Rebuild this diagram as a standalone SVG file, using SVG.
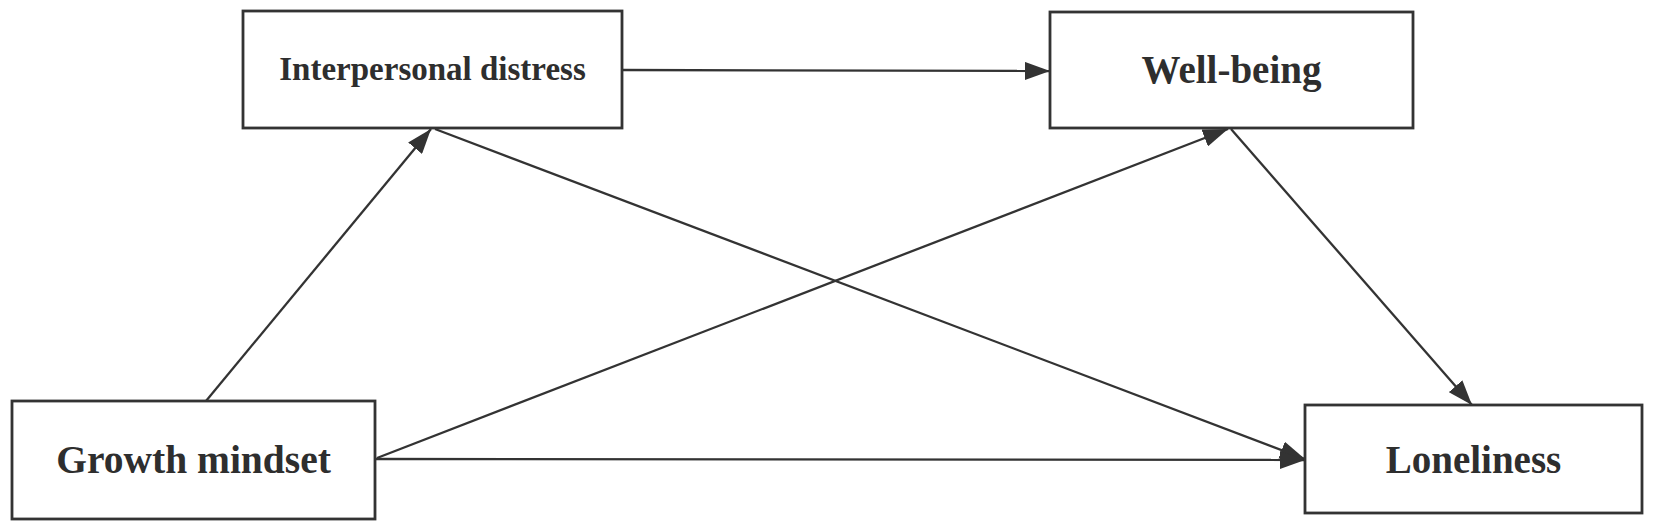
<svg xmlns="http://www.w3.org/2000/svg" width="1654" height="530" viewBox="0 0 1654 530">
<style>
.box{fill:#fff;stroke:#333;stroke-width:2.8}
.lbl{font-family:"Liberation Serif","Times New Roman",serif;font-weight:bold;fill:#2e2e2e;text-anchor:middle}
.edge{stroke:#333;stroke-width:2.3;fill:none;marker-end:url(#arr)}
</style>
<defs>
<marker id="arr" markerUnits="userSpaceOnUse" markerWidth="25" markerHeight="18" refX="25" refY="9" orient="auto">
<path d="M0,0 L25,9 L0,18 z" fill="#333"/>
</marker>
</defs>
<rect width="1654" height="530" fill="#fff"/>
<g id="connectors">
<line class="edge" x1="206" y1="401" x2="431" y2="129"/>
<line class="edge" x1="435" y1="129" x2="1305" y2="459"/>
<line class="edge" x1="377" y1="458" x2="1228" y2="129"/>
<line class="edge" x1="622" y1="70" x2="1050" y2="71"/>
<line class="edge" x1="1231" y1="129" x2="1472" y2="405"/>
<line class="edge" x1="376" y1="459" x2="1305" y2="460"/>
</g>
<g id="interpersonal">
<rect class="box" x="243" y="11" width="379" height="117"/>
<text class="lbl" x="432.5" y="80" font-size="33">Interpersonal distress</text>
</g>
<g id="wellbeing">
<rect class="box" x="1050" y="12" width="363" height="116"/>
<text class="lbl" x="1231.5" y="83" font-size="39">Well-being</text>
</g>
<g id="growth">
<rect class="box" x="12" y="401" width="363" height="118"/>
<text class="lbl" x="193.5" y="473" font-size="39.5">Growth mindset</text>
</g>
<g id="loneliness">
<rect class="box" x="1305" y="405" width="337" height="108"/>
<text class="lbl" x="1473.5" y="473" font-size="39">Loneliness</text>
</g>
</svg>
